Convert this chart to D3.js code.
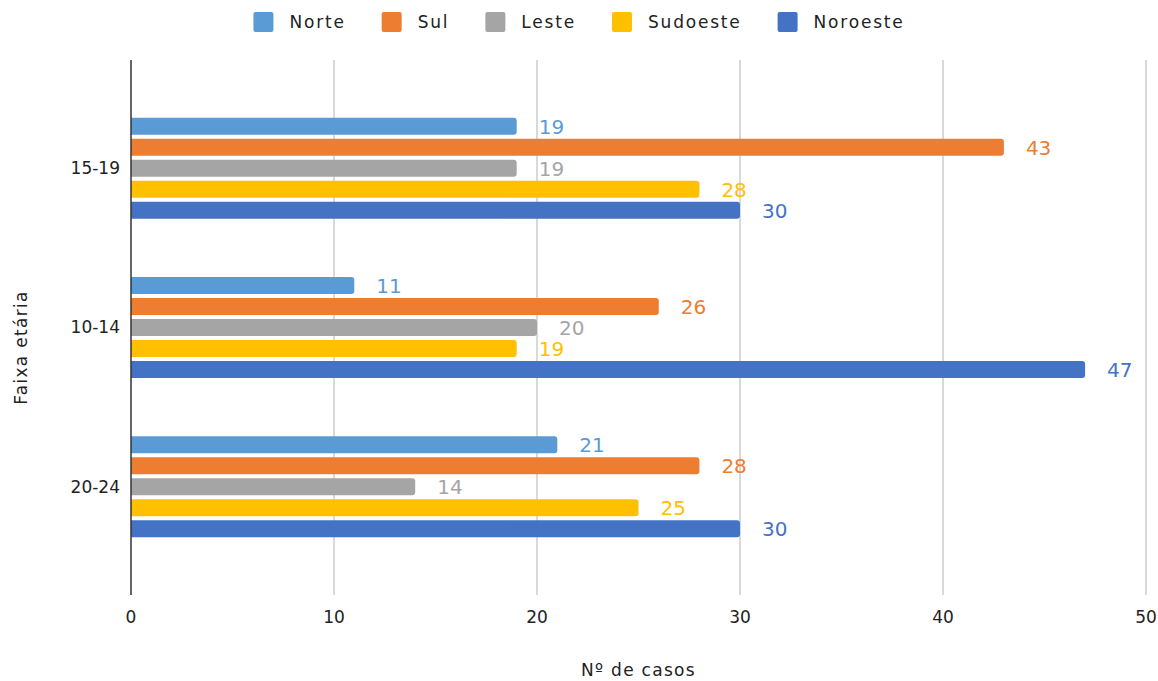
<!DOCTYPE html>
<html>
<head>
<meta charset="utf-8">
<script src="https://cdn.jsdelivr.net/npm/d3@7"></script>
<style>
  body { margin: 0; background: #fff; }
  .content { width: 1158px; height: 681px; }
  text { font-family: "DejaVu Sans", "Noto Sans", sans-serif; }
</style>
</head>
<body>
<div class="content"></div>
<script>
var width = 1158,
  height = 681;

// data
var ageGroups = ["15-19", "10-14", "20-24"];
var regions = ["Norte", "Sul", "Leste", "Sudoeste", "Noroeste"];
var norte = [19, 11, 21];
var sul = [43, 26, 28];
var leste = [19, 20, 14];
var sudoeste = [28, 19, 25];
var noroeste = [30, 47, 30];
var xTicks = [0, 10, 20, 30, 40, 50];
var colors = ["#5b9bd5", "#ed7d31", "#a5a5a5", "#ffc000", "#4472c4"];

var seriesValues = [norte, sul, leste, sudoeste, noroeste];

var plot = { left: 131, right: 1146, top: 60, bottom: 595 };

var svg = d3.select(".content").append("svg")
  .attr("width", width)
  .attr("height", height);

var x = d3.scaleLinear()
  .domain([0, 50])
  .range([plot.left, plot.right]);

var y = d3.scaleBand()
  .domain(ageGroups)
  .range([plot.top, plot.bottom])
  .paddingInner(0)
  .paddingOuter(0.18);

var ySub = d3.scaleBand()
  .domain(regions)
  .range([-52.5, 52.5])
  .paddingInner(0.19)
  .paddingOuter(0.095);

var color = d3.scaleOrdinal().domain(regions).range(colors);

// gridlines
svg.append("g")
  .selectAll("line")
  .data(xTicks.filter(function (d) { return d > 0; }))
  .enter().append("line")
  .attr("x1", function (d) { return x(d); })
  .attr("x2", function (d) { return x(d); })
  .attr("y1", plot.top)
  .attr("y2", plot.bottom)
  .attr("stroke", "#cccccc")
  .attr("stroke-width", 1.5);

// x tick labels
svg.append("g")
  .selectAll("text")
  .data(xTicks)
  .enter().append("text")
  .attr("x", function (d) { return x(d); })
  .attr("y", 623)
  .attr("text-anchor", "middle")
  .attr("font-size", "17px")
  .attr("fill", "#222")
  .text(function (d) { return d; });

// y labels
svg.append("g")
  .selectAll("text")
  .data(ageGroups)
  .enter().append("text")
  .attr("x", 120)
  .attr("y", function (d) { return y(d) + y.bandwidth() / 2; })
  .attr("dy", "0.35em")
  .attr("text-anchor", "end")
  .attr("font-size", "17px")
  .attr("fill", "#222")
  .text(function (d) { return d; });

function barPath(x0, x1, y0, h, r) {
  var w = x1 - x0;
  if (w < r) r = w;
  return "M" + x0 + "," + y0 +
    "H" + (x1 - r) +
    "Q" + x1 + "," + y0 + " " + x1 + "," + (y0 + r) +
    "V" + (y0 + h - r) +
    "Q" + x1 + "," + (y0 + h) + " " + (x1 - r) + "," + (y0 + h) +
    "H" + x0 + "Z";
}

var groups = svg.selectAll(".group")
  .data(ageGroups)
  .enter().append("g")
  .attr("class", "group")
  .attr("transform", function (d) { return "translate(0," + (y(d) + y.bandwidth() / 2) + ")"; });

groups.each(function (age, gi) {
  var g = d3.select(this);
  var rows = regions.map(function (r, si) { return { region: r, value: seriesValues[si][gi] }; });

  g.selectAll("path")
    .data(rows)
    .enter().append("path")
    .attr("d", function (d) { return barPath(x(0), x(d.value), ySub(d.region), ySub.bandwidth(), 3); })
    .attr("fill", function (d) { return color(d.region); });

  g.selectAll("text.val")
    .data(rows)
    .enter().append("text")
    .attr("class", "val")
    .attr("x", function (d) { return x(d.value) + 22; })
    .attr("y", function (d) { return ySub(d.region) + ySub.bandwidth() / 2; })
    .attr("dy", "0.37em")
    .attr("font-size", "20px")
    .attr("fill", function (d) { return color(d.region); })
    .text(function (d) { return d.value; });
});

// y axis line
svg.append("line")
  .attr("x1", plot.left)
  .attr("x2", plot.left)
  .attr("y1", plot.top)
  .attr("y2", plot.bottom)
  .attr("stroke", "#333")
  .attr("stroke-width", 1.5);

// axis titles
svg.append("text")
  .attr("x", (plot.left + plot.right) / 2)
  .attr("y", 676)
  .attr("text-anchor", "middle")
  .attr("font-size", "17px")
  .attr("letter-spacing", "1.3px")
  .attr("fill", "#222")
  .text("Nº de casos");

svg.append("text")
  .attr("transform", "translate(27," + ((plot.top + plot.bottom) / 2 + 20) + ") rotate(-90)")
  .attr("text-anchor", "middle")
  .attr("font-size", "17px")
  .attr("letter-spacing", "1.3px")
  .attr("fill", "#222")
  .text("Faixa etária");

// legend
var legend = svg.append("g");
var lx = 0;
regions.forEach(function (r) {
  var item = legend.append("g").attr("transform", "translate(" + lx + ",0)");
  item.append("rect")
    .attr("x", 0)
    .attr("y", 12)
    .attr("width", 20)
    .attr("height", 20)
    .attr("rx", 2)
    .attr("fill", color(r));
  var t = item.append("text")
    .attr("x", 36)
    .attr("y", 22)
    .attr("dy", "0.35em")
    .attr("font-size", "17px")
    .attr("letter-spacing", "1.8px")
    .attr("fill", "#222")
    .text(r);
  lx += 36 + t.node().getComputedTextLength() + 36;
});
var legendWidth = lx - 36;
legend.attr("transform", "translate(" + ((width - legendWidth) / 2) + ",0)");
</script>
</body>
</html>
